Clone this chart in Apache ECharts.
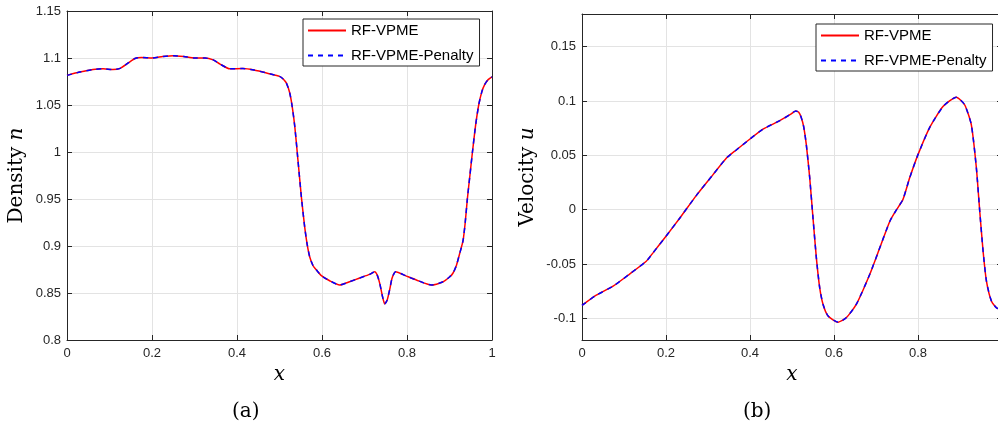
<!DOCTYPE html>
<html>
<head>
<meta charset="utf-8">
<script src="https://cdn.jsdelivr.net/npm/echarts@6/dist/echarts.min.js"></script>
<style>
  html, body { margin: 0; padding: 0; background: #fff; }
  #main { width: 998px; height: 422px; }
</style>
</head>
<body>
<div id="main"></div>
<script>
// density n(x), panel (a)
var densX = [0, 0.03, 0.061, 0.085, 0.108, 0.125, 0.145, 0.16, 0.175, 0.2, 0.225, 0.25, 0.275, 0.3, 0.325,
  0.344, 0.36, 0.383, 0.414, 0.44, 0.477, 0.5, 0.508, 0.516, 0.524, 0.53, 0.536, 0.5435, 0.5515, 0.5593,
  0.565, 0.571, 0.579, 0.587, 0.5985, 0.618, 0.6416, 0.665, 0.6887, 0.712, 0.724, 0.73, 0.736, 0.742,
  0.7475, 0.753, 0.759, 0.765, 0.7734, 0.7986, 0.822, 0.857, 0.885, 0.9, 0.908, 0.916, 0.924, 0.932,
  0.937, 0.942, 0.948, 0.954, 0.961, 0.9687, 0.976, 0.983, 0.991, 1.0]
var densN = [1.0815, 1.085, 1.0878, 1.0885, 1.0878, 1.089, 1.095, 1.0995, 1.1005, 1.1, 1.1015, 1.1025, 1.1015, 1.1, 1.1,
  1.098, 1.0935, 1.0885, 1.0888, 1.0872, 1.0832, 1.0805, 1.078, 1.0735, 1.063, 1.048, 1.027, 0.991, 0.952, 0.92,
  0.902, 0.8885, 0.879, 0.8744, 0.8684, 0.863, 0.8585, 0.862, 0.866, 0.8698, 0.8726, 0.869, 0.86, 0.847,
  0.8385, 0.842, 0.853, 0.866, 0.8726, 0.868, 0.8638, 0.8585, 0.862, 0.867, 0.871, 0.879, 0.892, 0.906,
  0.925, 0.95, 0.975, 1.0, 1.027, 1.05, 1.064, 1.072, 1.077, 1.08]

// velocity u(x), panel (b)
var velX = [0, 0.034, 0.074, 0.114, 0.153, 0.169, 0.2, 0.233, 0.272, 0.312, 0.344, 0.368, 0.4, 0.431, 0.471,
  0.495, 0.509, 0.516, 0.522, 0.528, 0.534, 0.542, 0.55, 0.558, 0.566, 0.574, 0.586, 0.61, 0.629, 0.653,
  0.685, 0.709, 0.733, 0.749, 0.764, 0.78, 0.8, 0.828, 0.86, 0.891, 0.911, 0.927, 0.939, 0.947, 0.955,
  0.963, 0.975, 0.99, 1.0]
var velU = [-0.0882, -0.0788, -0.0705, -0.0591, -0.0475, -0.0398, -0.0245, -0.0077, 0.0129, 0.0322, 0.0475, 0.0551, 0.065, 0.0741, 0.0818,
  0.0873, 0.0908, 0.0895, 0.0848, 0.076, 0.06, 0.03, -0.0077, -0.0444, -0.072, -0.0873, -0.098, -0.1036, -0.0996, -0.0873,
  -0.0597, -0.0352, -0.0107, 0.0, 0.0092, 0.029, 0.0506, 0.0757, 0.095, 0.1035, 0.0965, 0.078, 0.0383, -0.0015, -0.0383,
  -0.0659, -0.0843, -0.091, -0.0895]

var seriesNames = ['RF-VPME', 'RF-VPME-Penalty']
var velTicks = [-0.1, -0.05, 0, 0.05, 0.1, 0.15]

var axisColor = '#262626'
var gridColor = '#e3e3e3'
var sans = 'Liberation Sans'
var serif = 'DejaVu Serif'

function pairs (xs, ys) {
  return xs.map(function (x, i) { return [x, ys[i]] })
}

function xAxisPair (grid, name) {
  return [
    {
      gridIndex: grid, type: 'value', min: 0, max: 1, interval: 0.2, position: 'bottom',
      name: name, nameLocation: 'middle', nameGap: 24,
      nameTextStyle: { fontFamily: serif, fontStyle: 'italic', fontSize: 20, color: '#000' },
      axisLine: { onZero: false, lineStyle: { color: axisColor, width: 1 } },
      axisTick: { inside: true, length: 5, lineStyle: { color: axisColor } },
      axisLabel: { margin: 7, fontFamily: sans, fontSize: 13, color: axisColor },
      splitLine: { show: true, lineStyle: { color: gridColor, width: 1 } }
    },
    {
      gridIndex: grid, type: 'value', min: 0, max: 1, interval: 0.2, position: 'top',
      axisLine: { onZero: false, lineStyle: { color: axisColor, width: 1 } },
      axisTick: { inside: true, length: 5, lineStyle: { color: axisColor } },
      axisLabel: { show: false },
      splitLine: { show: false }
    }
  ]
}

var lineStyles = [
  { color: '#ff0000', width: 1.5, type: 'solid' },
  { color: '#0000ff', width: 1.5, type: [5, 5] }
]

function makeSeries (xIdx, yIdx, data) {
  return seriesNames.map(function (nm, i) {
    return {
      name: nm, type: 'line', xAxisIndex: xIdx, yAxisIndex: yIdx,
      data: data, showSymbol: false, symbol: 'none',
      smooth: 0.2,
      color: lineStyles[i].color,
      lineStyle: lineStyles[i],
      z: 2 + i
    }
  })
}

function makeLegend (left, top) {
  return {
    data: seriesNames, orient: 'vertical', left: left, top: top,
    itemWidth: 38, itemHeight: 14, itemGap: 10,
    padding: [4, 6, 3, 4],
    itemStyle: { opacity: 0 },
    backgroundColor: '#fff', borderColor: axisColor, borderWidth: 1,
    textStyle: { fontFamily: sans, fontSize: 15, color: '#000' }
  }
}

var chart = echarts.init(document.getElementById('main'))

var option = {
  animation: false,
  grid: [
    { left: 67, top: 11, width: 425, height: 329, outerBoundsMode: 'none' },
    { left: 582, top: 14, width: 420, height: 326, outerBoundsMode: 'none' }
  ],
  legend: [makeLegend(303, 19), makeLegend(816, 24)],
  xAxis: xAxisPair(0, 'x').concat(xAxisPair(1, 'x')),
  yAxis: [
    {
      gridIndex: 0, type: 'value', min: 0.8, max: 1.15, interval: 0.05, position: 'left',
      name: '{a|Density }{b|n}', nameLocation: 'middle', nameGap: 40, nameRotate: 90,
      nameTextStyle: {
        rich: {
          a: { fontFamily: serif, fontSize: 20, color: '#000' },
          b: { fontFamily: serif, fontStyle: 'italic', fontSize: 20, color: '#000' }
        }
      },
      axisLine: { show: true, onZero: false, lineStyle: { color: axisColor, width: 1 } },
      axisTick: { show: true, inside: true, length: 5, lineStyle: { color: axisColor } },
      axisLabel: { margin: 6, fontFamily: sans, fontSize: 13, color: axisColor },
      splitLine: { show: true, lineStyle: { color: gridColor, width: 1 } }
    },
    {
      gridIndex: 0, type: 'value', min: 0.8, max: 1.15, interval: 0.05, position: 'right',
      axisLine: { show: true, onZero: false, lineStyle: { color: axisColor, width: 1 } },
      axisTick: { show: true, inside: true, length: 5, lineStyle: { color: axisColor } },
      axisLabel: { show: false },
      splitLine: { show: false }
    },
    {
      gridIndex: 1, type: 'value', min: -0.12, max: 0.18, position: 'left',
      name: '{a|Velocity }{b|u}', nameLocation: 'middle', nameGap: 44, nameRotate: 90,
      nameTextStyle: {
        rich: {
          a: { fontFamily: serif, fontSize: 20, color: '#000' },
          b: { fontFamily: serif, fontStyle: 'italic', fontSize: 20, color: '#000' }
        }
      },
      axisLine: { show: true, onZero: false, lineStyle: { color: axisColor, width: 1 } },
      axisTick: { show: true, inside: true, length: 5, customValues: velTicks, lineStyle: { color: axisColor } },
      axisLabel: { margin: 6, fontFamily: sans, fontSize: 13, color: axisColor, customValues: velTicks },
      splitLine: { show: true, lineStyle: { color: gridColor, width: 1 } }
    },
    {
      gridIndex: 1, type: 'value', min: -0.12, max: 0.18, position: 'right',
      axisLine: { show: true, onZero: false, lineStyle: { color: axisColor, width: 1 } },
      axisTick: { show: true, inside: true, length: 5, customValues: velTicks, lineStyle: { color: axisColor } },
      axisLabel: { show: false },
      splitLine: { show: false }
    }
  ],
  series: makeSeries(0, 0, pairs(densX, densN)).concat(makeSeries(2, 2, pairs(velX, velU))),
  graphic: [
    { type: 'text', left: 232, top: 402, style: { text: '(a)', font: '20px "DejaVu Serif"', fill: '#000' } },
    { type: 'text', left: 743, top: 402, style: { text: '(b)', font: '20px "DejaVu Serif"', fill: '#000' } }
  ]
}

chart.setOption(option)
</script>
</body>
</html>
